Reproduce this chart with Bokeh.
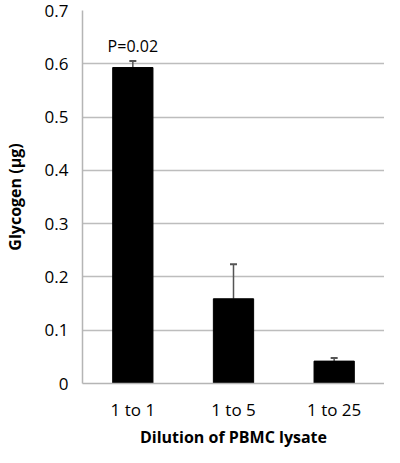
from bokeh.plotting import figure
from bokeh.models import ColumnDataSource, FactorRange, Whisker, TeeHead, Label, Range1d, FixedTicker, Title
from bokeh.embed import file_html
from bokeh.resources import INLINE

categories = ["1 to 1", "1 to 5", "1 to 25"]
glycogen = [0.593, 0.159, 0.042]
error_up = [0.012, 0.065, 0.006]
y_ticks = [0, 0.1, 0.2, 0.3, 0.4, 0.5, 0.6, 0.7]
annotation = "P=0.02"
x_title = "Dilution of PBMC lysate"
y_title = "Glycogen (µg)"

FONT = "Open Sans"

src = ColumnDataSource(dict(
    x=categories,
    top=glycogen,
    upper=[v + e for v, e in zip(glycogen, error_up)],
    lower=glycogen,
))

p = figure(width=384, height=447, x_range=FactorRange(*categories, range_padding=0),
           y_range=Range1d(0, 0.7), output_backend="svg", toolbar_location=None,
           min_border_top=10, min_border_right=0, min_border_left=2, min_border_bottom=0)

p.vbar(x="x", top="top", width=0.4, source=src, fill_color="black", line_color="black")

w = Whisker(base="x", upper="upper", lower="lower", source=src, dimension="height",
            line_color="#555555", line_width=1.5,
            upper_head=TeeHead(size=7, line_color="#555555", line_width=2), lower_head=None)
p.add_layout(w)

p.add_layout(Label(x=0.5, y=glycogen[0] + error_up[0], text=annotation, text_align="center",
                   text_baseline="bottom", y_offset=4, text_font=FONT, text_font_size="16px",
                   text_color="black"))

# x-axis title as a title panel below the axis
p.add_layout(Title(text=x_title, align="center", text_font=FONT, text_font_size="16px",
                   text_font_style="bold", text_color="black", standoff=0, offset=0), "below")

p.yaxis.ticker = FixedTicker(ticks=y_ticks)
p.yaxis.axis_label = y_title

for ax in (p.xaxis, p.yaxis):
    ax.axis_label_text_font = FONT
    ax.axis_label_text_font_style = "bold"
    ax.axis_label_text_font_size = "16px"
    ax.major_label_text_font = FONT
    ax.major_label_text_font_size = "17px"
    ax.major_label_text_color = "black"
    ax.axis_label_text_color = "black"
    ax.major_tick_line_color = None
    ax.minor_tick_line_color = None
    ax.major_tick_out = 0
    ax.major_tick_in = 0
    ax.axis_line_color = "#b5b5b5"
    ax.axis_line_width = 1.5

p.yaxis.major_label_standoff = 14
p.yaxis.axis_label_standoff = 16
p.xaxis.major_label_standoff = 14

p.xgrid.grid_line_color = None
p.ygrid.grid_line_color = "#bdbdbd"
p.ygrid.grid_line_width = 1.5
p.outline_line_color = None

open("out.html", "w").write(file_html(p, INLINE))
